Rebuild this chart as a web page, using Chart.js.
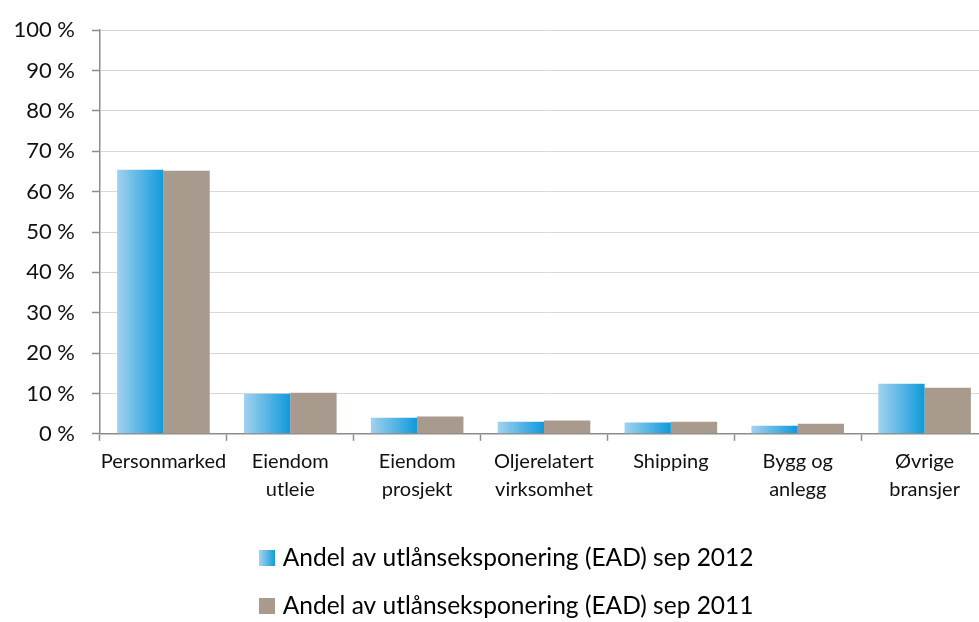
<!DOCTYPE html>
<html>
<head>
<meta charset="utf-8">
<script src="https://cdn.jsdelivr.net/npm/chart.js@4/dist/chart.umd.min.js"></script>
<style>
  html, body { margin: 0; padding: 0; background: #fff; overflow: hidden; }
  #wrap { width: 988px; height: 622px; }
</style>
</head>
<body>
<div id="wrap"><canvas id="chart" width="988" height="622"></canvas></div>
<script>
// data
var categories = [
  "Personmarked",
  ["Eiendom", "utleie"],
  ["Eiendom", "prosjekt"],
  ["Oljerelatert", "virksomhet"],
  "Shipping",
  ["Bygg og", "anlegg"],
  ["Øvrige", "bransjer"]
]
var share2012 = [65.4, 9.9, 4.0, 3.0, 2.8, 2.0, 12.4]
var share2011 = [65.2, 10.2, 4.3, 3.3, 3.0, 2.5, 11.4]
var seriesNames = [
  "Andel av utlånseksponering (EAD) sep 2012",
  "Andel av utlånseksponering (EAD) sep 2011"
]

var blueLight = "#A3D1EE"
var blueDark = "#0E9ADB"
var taupe = "#A89A8C"
var fontFamily = "Lato, 'Noto Sans', sans-serif"

// little swatches for the legend
function swatch(gradient) {
  var c = document.createElement("canvas")
  c.width = 16
  c.height = 16
  var g = c.getContext("2d")
  if (gradient) {
    var gr = g.createLinearGradient(0, 0, 16, 0)
    gr.addColorStop(0, blueLight)
    gr.addColorStop(1, blueDark)
    g.fillStyle = gr
  } else {
    g.fillStyle = taupe
  }
  g.fillRect(0, 0, 16, 16)
  return c
}
var swatches = [swatch(true), swatch(false)]

// paints the horizontal gradient inside each 2012 bar
var barGradient = {
  id: "barGradient",
  afterLayout: function (chart) {
    // legend sits a bit right of centre in the original
    chart.legend.left += 15
    chart.legend.right += 15
  },
  beforeDatasetDraw: function (chart, args) {
    if (args.index !== 0) return
    var ctx = chart.ctx
    args.meta.data.forEach(function (bar) {
      var left = bar.x - bar.width / 2
      var gr = ctx.createLinearGradient(left, 0, left + bar.width, 0)
      gr.addColorStop(0, blueLight)
      gr.addColorStop(1, blueDark)
      bar.options.backgroundColor = gr
    })
  }
}

new Chart(document.getElementById("chart"), {
  type: "bar",
  plugins: [barGradient],
  data: {
    labels: categories,
    datasets: [
      // function colour so each bar gets its own options object
      { label: seriesNames[0], data: share2012, backgroundColor: function () { return blueDark } },
      { label: seriesNames[1], data: share2011, backgroundColor: taupe }
    ]
  },
  options: {
    responsive: false,
    animation: false,
    layout: { padding: { top: 14, right: 0, left: 0, bottom: -6 } },
    datasets: {
      bar: { categoryPercentage: 0.73, barPercentage: 1.0, borderWidth: 0 }
    },
    scales: {
      x: {
        afterFit: function (scale) { scale.height += 12 },
        grid: {
          offset: true,
          drawOnChartArea: false,
          tickLength: 7,
          tickColor: "#8C8C8C",
          tickWidth: 1.5
        },
        border: { color: "#8C8C8C", width: 1.5 },
        ticks: {
          color: "#111",
          padding: 7,
          maxRotation: 0,
          autoSkip: false,
          font: { family: fontFamily, size: 20, lineHeight: 1.38 }
        }
      },
      y: {
        min: 0,
        max: 100,
        afterFit: function (scale) { scale.width = 100 },
        grid: {
          color: "#D9D9D9",
          borderDash: [6, 3],
          tickBorderDash: [],
          tickColor: "#8C8C8C",
          tickLength: 8,
          tickWidth: 1.5
        },
        border: { color: "#8C8C8C", width: 1.5 },
        ticks: {
          stepSize: 10,
          color: "#111",
          padding: 17,
          font: { family: fontFamily, size: 22 },
          callback: function (v) { return v + " %" }
        }
      }
    },
    plugins: {
      tooltip: { enabled: false },
      legend: {
        position: "bottom",
        labels: {
          color: "#111",
          font: { family: fontFamily, size: 24.5 },
          usePointStyle: true,
          boxWidth: 6,
          boxHeight: 16,
          padding: 23.5,
          generateLabels: function (chart) {
            return chart.data.datasets.map(function (ds, i) {
              return {
                text: ds.label,
                pointStyle: swatches[i],
                fillStyle: i === 0 ? blueDark : taupe,
                strokeStyle: "transparent",
                lineWidth: 0,
                datasetIndex: i,
                hidden: false
              }
            })
          }
        }
      }
    }
  }
})
</script>
</body>
</html>
